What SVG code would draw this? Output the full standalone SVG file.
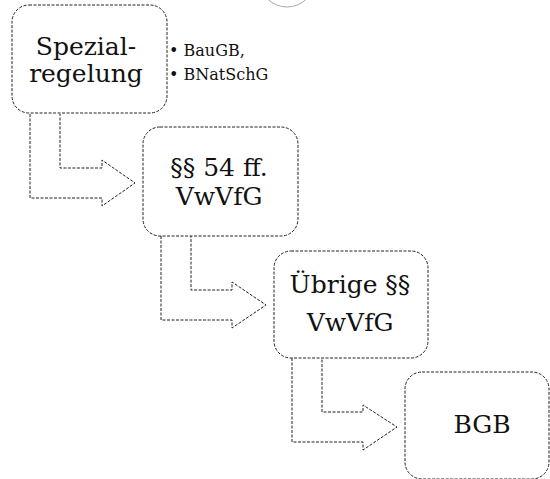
<svg xmlns="http://www.w3.org/2000/svg" width="550" height="479" viewBox="0 0 550 479">
<style>
.box{fill:#fff;stroke:#222;stroke-width:1;stroke-dasharray:3 1.5}
.arr{fill:#fff;stroke:#222;stroke-width:1;stroke-dasharray:3 1.5;stroke-linejoin:miter}
text{font-family:"DejaVu Serif","Liberation Serif",serif;fill:#111}
.big{font-size:25px;text-anchor:middle}
.small{font-size:16px}
</style>
<rect width="550" height="479" fill="#fff"/>
<circle cx="287" cy="-21" r="28" fill="none" stroke="#aaa" stroke-width="1"/>
<g id="connectors">
<path class="arr" d="M30,114 V198 H102 V206 L135,183 L102,160 V168 H60 V114"/>
<path class="arr" d="M161,236 V320 H232 V328 L266,305 L232,282 V290 H191 V236"/>
<path class="arr" d="M292,358 V442 H363 V450 L397,427 L363,405 V412 H322 V358"/>
</g>
<g id="n1">
<rect class="box" x="12" y="5" width="155" height="108" rx="17"/>
<text class="big" x="86" y="55">Spezial-</text>
<text class="big" x="86" y="82">regelung</text>
</g>
<g id="n1-notes">
<text class="small" x="169" y="56">• BauGB,</text>
<text class="small" x="169" y="80">• BNatSchG</text>
</g>
<g id="n2">
<rect class="box" x="143" y="127" width="155" height="109" rx="17"/>
<text class="big" x="219" y="176">§§ 54 ff.</text>
<text class="big" x="219" y="205">VwVfG</text>
</g>
<g id="n3">
<rect class="box" x="274" y="251" width="154" height="107" rx="17"/>
<text class="big" x="350" y="293">Übrige §§</text>
<text class="big" x="350" y="331">VwVfG</text>
</g>
<g id="n4">
<rect class="box" x="405" y="372" width="144" height="107" rx="17"/>
<text class="big" x="482" y="433">BGB</text>
</g>
</svg>
